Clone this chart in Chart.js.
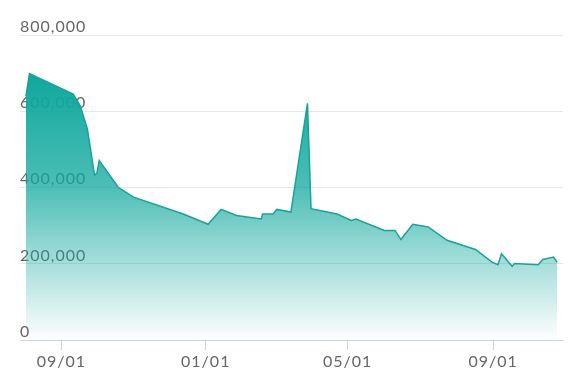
<!DOCTYPE html>
<html>
<head>
<meta charset="utf-8">
<script src="https://cdn.jsdelivr.net/npm/chart.js@4"></script>
<style>
    body { margin: 0; background: #fff; }
    #wrap { width: 584px; height: 391px; position: relative; }
</style>
</head>
<body>
<div id="wrap"><canvas id="chart"></canvas></div>
<script>
'use strict';

// data
const dates = [
    "2022-08-02", "2022-08-05", "2022-09-11", "2022-09-17", "2022-09-23",
    "2022-09-29", "2022-10-01", "2022-10-03", "2022-10-19", "2022-11-01",
    "2022-12-13", "2023-01-03", "2023-01-14", "2023-01-27", "2023-02-17",
    "2023-02-18", "2023-02-27", "2023-03-02", "2023-03-14", "2023-03-28",
    "2023-03-31", "2023-04-22", "2023-05-04", "2023-05-08", "2023-06-01",
    "2023-06-10", "2023-06-15", "2023-06-25", "2023-07-08", "2023-07-24",
    "2023-08-17", "2023-08-31", "2023-09-05", "2023-09-08", "2023-09-17",
    "2023-09-19", "2023-10-09", "2023-10-13", "2023-10-22", "2023-10-25"
];
const values = [
    639000, 699000, 645000, 614000, 553000,
    433000, 438000, 471000, 401000, 375000,
    331000, 304000, 343000, 327000, 318000,
    331000, 331000, 343000, 336000, 621000,
    345000, 331000, 314000, 318000, 288000,
    288000, 264000, 304000, 297000, 262000,
    238000, 205000, 198000, 227000, 194000,
    201000, 198000, 212000, 218000, 204000
];
const tickDates = ["2022-09-01", "2023-01-01", "2023-05-01", "2023-09-01"];
const yTicks = [0, 200000, 400000, 600000, 800000];

function toTime(s) {
    let p = s.split('-');
    return Date.UTC(+p[0], +p[1] - 1, +p[2]);
}

function fmtDate(t) {
    let d = new Date(t);
    let mm = String(d.getUTCMonth() + 1).padStart(2, '0');
    let dd = String(d.getUTCDate()).padStart(2, '0');
    return mm + '/' + dd;
}

function fillGradient(ctx) {
    let chart = ctx.chart;
    let area = chart.chartArea;
    if (!area) return 'rgba(15,167,157,0.5)';
    let top = chart.scales.y.getPixelForValue(700000);
    let g = chart.ctx.createLinearGradient(0, top, 0, area.bottom);
    g.addColorStop(0, 'rgba(15,167,157,1)');
    g.addColorStop(0.42, 'rgba(15,167,157,0.75)');
    g.addColorStop(1, 'rgba(15,167,157,0)');
    return g;
}

// canvas has no css letter-spacing, so set it before each draw
const spacing = {
    id: 'spacing',
    beforeDraw(chart) { chart.ctx.letterSpacing = '1px'; }
};

const points = dates.map((d, i) => ({ x: toTime(d), y: values[i] }));
const font = { family: 'Lato', size: 16 };

new Chart(document.getElementById('chart'), {
    type: 'line',
    data: {
        datasets: [{
            data: points,
            borderColor: '#17a39a',
            borderWidth: 1.5,
            backgroundColor: fillGradient,
            fill: 'origin',
            pointRadius: 0,
            tension: 0
        }]
    },
    options: {
        responsive: true,
        maintainAspectRatio: false,
        animation: false,
        layout: { padding: { left: 20, right: 21, top: 35, bottom: 18.5 } },
        plugins: { legend: { display: false }, tooltip: { enabled: false } },
        scales: {
            x: {
                type: 'linear',
                min: toTime("2022-07-28"),
                max: toTime("2023-10-30"),
                afterBuildTicks: (axis) => {
                    axis.ticks = tickDates.map(d => ({ value: toTime(d) }));
                },
                ticks: {
                    callback: (v) => fmtDate(v),
                    color: '#666666',
                    font: font,
                    padding: 1.5,
                    maxRotation: 0
                },
                grid: {
                    drawOnChartArea: false,
                    drawTicks: true,
                    tickLength: 10,
                    tickColor: '#ccd6eb'
                },
                border: { display: true, color: '#ccd6eb', width: 1 }
            },
            y: {
                min: 0,
                max: 800000,
                afterBuildTicks: (axis) => {
                    axis.ticks = yTicks.map(v => ({ value: v }));
                },
                ticks: {
                    mirror: true,
                    padding: 0,
                    labelOffset: -8.5,
                    color: '#666666',
                    font: font,
                    callback: (v) => v.toLocaleString('en-US')
                },
                grid: { color: '#e6e6e6', drawTicks: false },
                border: { display: false }
            }
        }
    },
    plugins: [spacing]
});
</script>
</body>
</html>
